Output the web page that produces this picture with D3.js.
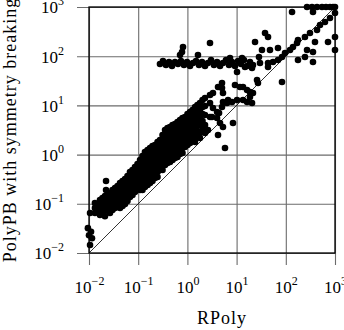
<!DOCTYPE html>
<html>
<head>
<meta charset="utf-8">
<script src="https://cdn.jsdelivr.net/npm/d3@7"></script>
<style>
  html, body { margin: 0; padding: 0; background: #fff; }
  svg { display: block; }
</style>
</head>
<body>
<div id="chart"></div>
<script>
// Axis ticks (both axes share the same decades)
const tickValues = [1e-2, 1e-1, 1e0, 1e1, 1e2, 1e3];
const tickExponents = ["\u22122", "\u22121", "0", "1", "2", "3"];

// [RPoly time, PolyPB with symmetry breaking time]
// dense cloud above the diagonal
const mainCloud = [
  [0.0105,0.065],[0.0095,0.032],[0.0100,0.023],[0.0115,0.020],[0.0105,0.0145],[0.0110,0.027],
  [0.0132,0.104],[0.0132,0.082],[0.0132,0.065],[0.0145,0.068],
  [0.0167,0.119],[0.0167,0.095],[0.0167,0.075],[0.0167,0.059],
  [0.0211,0.144],[0.0211,0.114],[0.0211,0.090],[0.0211,0.071],[0.0211,0.056],
  [0.0222,0.291],[0.0222,0.191],
  [0.0267,0.166],[0.0267,0.131],[0.0267,0.104],[0.0267,0.082],[0.0267,0.065],
  [0.0338,0.209],[0.0338,0.166],[0.0338,0.131],[0.0338,0.104],[0.0338,0.082],
  [0.0427,0.265],[0.0427,0.209],[0.0427,0.166],[0.0427,0.131],[0.0427,0.104],[0.0427,0.082],
  [0.054,0.319],[0.054,0.253],[0.054,0.200],[0.054,0.158],[0.054,0.125],[0.054,0.099],
  [0.068,0.443],[0.068,0.351],[0.068,0.277],[0.068,0.219],[0.068,0.174],[0.068,0.137],
  [0.086,0.560],[0.086,0.443],[0.086,0.351],[0.086,0.277],[0.086,0.219],[0.086,0.174],
  [0.109,0.777],[0.109,0.615],[0.109,0.486],[0.109,0.385],[0.109,0.305],[0.109,0.241],[0.109,0.191],
  [0.137,1.13],[0.137,0.894],[0.137,0.708],[0.137,0.560],[0.137,0.443],[0.137,0.351],[0.137,0.277],[0.137,0.219],
  [0.174,1.36],[0.174,1.08],[0.174,0.853],[0.174,0.675],[0.174,0.534],[0.174,0.423],[0.174,0.334],[0.174,0.265],
  [0.219,1.57],[0.219,1.24],[0.219,0.98],[0.219,0.777],[0.219,0.615],[0.219,0.486],[0.219,0.385],[0.219,0.334],
  [0.277,1.98],[0.277,1.57],[0.277,1.24],[0.277,0.98],[0.277,0.777],[0.277,0.615],[0.277,0.486],
  [0.351,3.16],[0.351,2.50],[0.351,1.98],[0.351,1.57],[0.351,1.24],[0.351,0.98],[0.351,0.777],[0.351,0.615],
  [0.443,3.64],[0.443,2.88],[0.443,2.28],[0.443,1.80],[0.443,1.43],[0.443,1.13],[0.443,0.894],[0.443,0.708],
  [0.560,4.19],[0.560,3.31],[0.560,2.62],[0.560,2.08],[0.560,1.64],[0.560,1.30],[0.560,1.03],[0.560,0.853],
  [0.708,5.05],[0.708,4.00],[0.708,3.16],[0.708,2.50],[0.708,1.98],[0.708,1.57],[0.708,1.24],[0.708,1.03],
  [0.894,5.81],[0.894,4.60],[0.894,3.64],[0.894,2.88],[0.894,2.28],[0.894,1.80],[0.894,1.43],
  [1.13,7.35],[1.13,5.81],[1.13,4.60],[1.13,3.64],[1.13,2.88],[1.13,2.28],[1.13,1.72],
  [1.43,9.28],[1.43,7.35],[1.43,5.81],[1.43,4.60],[1.43,3.47],[1.43,2.50],[1.43,1.80],
  [1.80,11.2],[1.80,8.07],[1.80,5.55],[1.80,4.00],[1.80,2.75],[1.80,2.17],
  [2.28,14.1],[2.28,9.7],[2.28,6.38],[2.28,4.00],[2.28,2.75],
  [2.88,16.3],[2.88,11.2],[2.88,5.81]
];

// more runs packed in between the ones above
const cloudFill = [
  [0.0149,0.0945],[0.0149,0.0748],
  [0.0188,0.131],[0.0188,0.104],[0.0188,0.0822],[0.0188,0.065],
  [0.0238,0.151],[0.0238,0.119],[0.0238,0.0945],[0.0238,0.0748],
  [0.0300,0.191],[0.0300,0.151],[0.0300,0.119],[0.0300,0.0945],[0.0300,0.0748],
  [0.0380,0.230],[0.0380,0.182],[0.0380,0.144],[0.0380,0.114],[0.0380,0.0902],
  [0.0480,0.291],[0.0480,0.230],[0.0480,0.182],[0.0480,0.144],[0.0480,0.114],[0.0480,0.0902],
  [0.0606,0.367],[0.0606,0.291],[0.0606,0.230],[0.0606,0.182],[0.0606,0.144],[0.0606,0.114],
  [0.0766,0.486],[0.0766,0.385],[0.0766,0.305],[0.0766,0.241],[0.0766,0.191],[0.0766,0.151],
  [0.0968,0.644],[0.0968,0.510],[0.0968,0.403],[0.0968,0.319],[0.0968,0.253],[0.0968,0.200],
  [0.122,0.936],[0.122,0.741],[0.122,0.587],[0.122,0.464],[0.122,0.367],[0.122,0.291],[0.122,0.230],[0.122,0.191],
  [0.155,1.24],[0.155,0.98],[0.155,0.777],[0.155,0.615],[0.155,0.486],[0.155,0.385],[0.155,0.305],[0.155,0.241],
  [0.195,1.50],[0.195,1.18],[0.195,0.936],[0.195,0.741],[0.195,0.587],[0.195,0.464],[0.195,0.367],[0.195,0.291],
  [0.247,1.80],[0.247,1.43],[0.247,1.13],[0.247,0.894],[0.247,0.708],[0.247,0.560],[0.247,0.443],[0.247,0.351],
  [0.312,2.50],[0.312,1.98],[0.312,1.57],[0.312,1.24],[0.312,0.98],[0.312,0.777],[0.312,0.615],[0.312,0.486],
  [0.394,3.47],[0.394,2.75],[0.394,2.17],[0.394,1.72],[0.394,1.36],[0.394,1.08],[0.394,0.853],[0.394,0.675],
  [0.498,4.00],[0.498,3.16],[0.498,2.50],[0.498,1.98],[0.498,1.57],[0.498,1.24],[0.498,0.98],[0.498,0.777],
  [0.629,4.60],[0.629,3.64],[0.629,2.88],[0.629,2.28],[0.629,1.80],[0.629,1.43],[0.629,1.13],[0.629,0.894],
  [0.795,5.55],[0.795,4.39],[0.795,3.47],[0.795,2.75],[0.795,2.17],[0.795,1.72],[0.795,1.36],[0.795,1.08],
  [1.005,6.69],[1.005,5.29],[1.005,4.19],[1.005,3.31],[1.005,2.62],[1.005,2.08],[1.005,1.57],
  [1.27,8.06],[1.27,6.38],[1.27,5.05],[1.27,4.00],[1.27,3.16],[1.27,2.50],[1.27,1.98],
  [1.60,10.2],[1.60,8.06],[1.60,6.38],[1.60,5.05],[1.60,4.00],[1.60,3.02],[1.60,2.28],
  [2.03,12.9],[2.03,9.28],[2.03,6.69],[2.03,4.82],[2.03,3.31]
];

// scattered points between the cloud and the plateau
const midScatter = [
  [2.62,3.16],[3.31,17.9],[4.19,23.7],[5.05,22.6],[5.29,17.9],[3.16,5.81],[4.00,7.35],
  [3.31,8.85],[4.40,7.01],[4.00,5.55],[4.60,4.39],[5.29,11.7],[6.69,12.9],[5.05,9.28],
  [6.38,11.2],[8.07,11.7],[10.2,12.9],[13.5,12.9],[16.3,11.7],[20.6,11.2],[18.7,14.8],
  [21.5,17.9],[18.7,18.7],[16.3,20.6],[13.5,23.7],[11.7,23.7],[9.28,26.0],[8.45,4.39],
  [5.29,3.64],[4.19,2.50],[5.81,1.36],[26.0,32.8],[27.2,28.5],[83.7,29.9],[5.05,28.5]
];

// horizontal plateau just under 10^2
const plateauBand = [
  [0.277,69.4],[0.319,79.8],[0.367,66.2],[0.423,76.2],[0.486,63.2],[0.560,76.2],[0.644,69.4],
  [0.741,79.8],[0.853,66.2],[0.98,76.2],[1.13,63.2],[1.30,72.7],[1.50,79.8],[1.72,66.2],
  [1.98,76.2],[2.28,63.2],[2.62,72.7],[3.02,83.7],[3.47,66.2],[4.00,76.2],[4.60,63.2],
  [5.29,72.7],[6.09,83.7],[7.01,66.2],[8.07,76.2],[9.28,63.2],[10.7,79.8],[12.3,69.4],
  [14.1,83.7],[16.3,63.2],[18.7,76.2],[21.5,66.2],
  [0.708,106],[0.814,154],[0.777,122],[1.64,106],[2.88,185],[7.35,91.9],[12.9,91.9],
  [10.2,47.7],[14.8,60.3],[20.6,57.5]
];

// upper right corner, including timeouts at 10^3
const upperRight = [
  [23.7,194],[32.8,134],[37.8,296],[43.5,245],[47.7,134],[69.4,147],[28.5,96.4],[29.9,72.7],
  [43.5,72.7],[43.5,60.3],[54.9,76.2],[69.4,83.7],[83.7,96.4],[96.4,116],[122,134],[140,154],
  [169,185],[177,213],[245,245],[310,296],[431,341],[496,431],[626,496],[791,598],
  [177,83.7],[245,96.4],[270,134],[357,122],[357,76.2],[392,194],[721,194],[1000,245],[1000,134],
  [134,791],[270,1000],[341,1000],[431,1000],[545,1000],[656,1000],[791,1000],[910,1000],
  [1000,1000],[1000,755],[357,791]
];

const width = 344;
const height = 330;
const margin = { top: 7, right: 9, bottom: 77, left: 89 };
const plotW = width - margin.left - margin.right;
const plotH = height - margin.top - margin.bottom;
const tickLen = 12;
const gridColor = "#6b6b6b";
const serif = "'Liberation Serif', 'Times New Roman', serif";

const svg = d3.select("#chart").append("svg")
  .attr("width", width)
  .attr("height", height)
  .style("font-family", serif);

const x = d3.scaleLog().domain([1e-2, 1e3]).range([margin.left, margin.left + plotW]);
const y = d3.scaleLog().domain([1e-2, 1e3]).range([margin.top + plotH, margin.top]);

// tick label as 10 with a raised exponent
function powerLabel(sel) {
  sel.each(function(d, i) {
    const t = d3.select(this);
    t.text(null);
    t.append("tspan").text("10");
    t.append("tspan")
      .attr("dy", -8)
      .style("font-size", "12px")
      .text(tickExponents[i]);
  });
}

// vertical grid + ticks below the frame
const gx = svg.append("g")
  .attr("transform", `translate(0,${margin.top})`)
  .call(d3.axisBottom(x).tickValues(tickValues).tickFormat("")
    .tickSize(plotH + tickLen).tickSizeOuter(0));
gx.select(".domain").remove();
gx.attr("font-family", null);
gx.selectAll(".tick line").attr("stroke", gridColor).attr("stroke-width", 1.1);
gx.selectAll(".tick text")
  .attr("y", 286)
  .attr("dy", null)
  .attr("fill", "#000")
  .style("font-family", serif)
  .style("font-size", "17px")
  .call(powerLabel);

// horizontal grid + ticks left of the frame
const gy = svg.append("g")
  .attr("transform", `translate(${margin.left + plotW},0)`)
  .call(d3.axisLeft(y).tickValues(tickValues).tickFormat("")
    .tickSize(plotW + tickLen).tickSizeOuter(0));
gy.select(".domain").remove();
gy.attr("font-family", null);
gy.selectAll(".tick line").attr("stroke", gridColor).attr("stroke-width", 1.1);
gy.selectAll(".tick text")
  .attr("x", 64 - (margin.left + plotW))
  .attr("dy", "0.35em")
  .attr("fill", "#000")
  .attr("text-anchor", "end")
  .style("font-family", serif)
  .style("font-size", "17px")
  .call(powerLabel);

// y = x reference line
svg.append("line")
  .attr("x1", x(1e-2)).attr("y1", y(1e-2))
  .attr("x2", x(1e3)).attr("y2", y(1e3))
  .attr("stroke", "#000")
  .attr("stroke-width", 0.8);

// frame
svg.append("rect")
  .attr("x", margin.left)
  .attr("y", margin.top)
  .attr("width", plotW)
  .attr("height", plotH)
  .attr("fill", "none")
  .attr("stroke", "#000")
  .attr("stroke-width", 1.3);

const allPoints = mainCloud.concat(cloudFill, midScatter, plateauBand, upperRight);
svg.append("g")
  .selectAll("circle")
  .data(allPoints)
  .enter()
  .append("circle")
  .attr("cx", d => x(d[0]))
  .attr("cy", d => y(d[1]))
  .attr("r", 3.3)
  .attr("fill", "#000");

// axis titles
svg.append("text")
  .attr("x", 222)
  .attr("y", 324)
  .attr("text-anchor", "middle")
  .style("font-size", "18px")
  .style("letter-spacing", "1px")
  .text("RPoly");

svg.append("text")
  .attr("transform", "translate(16,130) rotate(-90)")
  .attr("text-anchor", "middle")
  .style("font-size", "18px")
  .style("letter-spacing", "1px")
  .text("PolyPB with symmetry breaking");
</script>
</body>
</html>
